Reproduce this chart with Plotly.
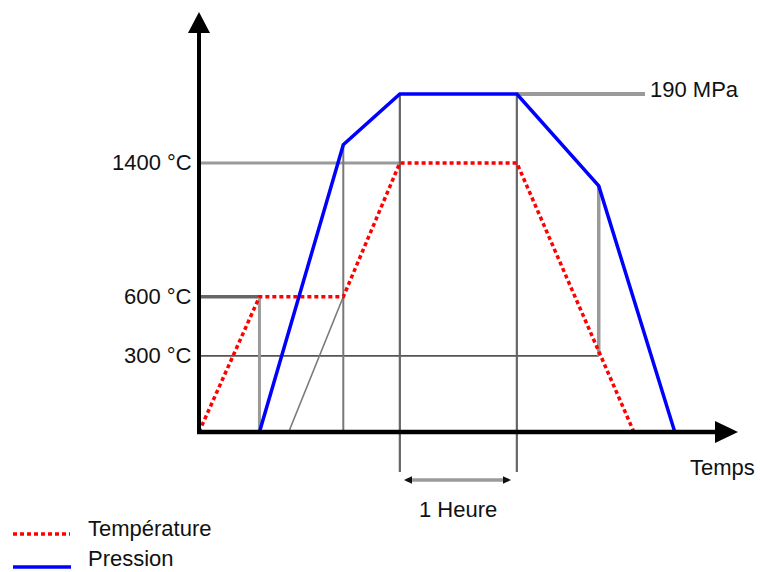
import plotly.graph_objects as go

# ---------------- data (schematic HIP cycle) ----------------
# time in minutes, vertical position in schematic level units (190 MPa level = 100)
temp_time = [0, 31, 74, 103, 163, 223]
temp_level = [0, 40, 40, 79.6, 79.6, 0]
press_time = [31, 74, 103, 163, 205, 244]
press_level = [0, 85, 100, 100, 72.8, 0]
temp_tick_levels = [22.5, 40, 79.6]
temp_tick_labels = ["300 °C", "600 °C", "1400 °C"]
press_tick_level = 100
press_tick_label = "190 MPa"
series_names = ["Température", "Pression"]
x_axis_title = "Temps"
hour_label = "1 Heure"
aux_start_time = 46  # thin grey ramp start

# ---------------- canvas / scale ----------------
W, H = 760, 572
X0_PX, Y0_PX = 199, 432          # origin in pixels
PX_PER_MIN = 117 / 60            # 1 hour = 117 px
PX_PER_UNIT = 3.38


def dx(px):
    return (px - X0_PX) / PX_PER_MIN


def dy(py):
    return (Y0_PX - py) / PX_PER_UNIT


FONT = dict(family="Liberation Sans, Arial, sans-serif", size=22, color="#111111")

fig = go.Figure()
shapes = []


def seg(x0, y0, x1, y1, color, width, layer="below"):
    shapes.append(dict(type="line", xref="x", yref="y", x0=x0, y0=y0, x1=x1, y1=y1,
                       line=dict(color=color, width=width), layer=layer))


# 300 °C crossing on the descent is at the pressure kink time
t300 = press_time[4]

# grey guide lines
seg(0, temp_level[3], temp_time[3], temp_level[3], "#9a9a9a", 3)                  # 1400
seg(press_time[3], press_level[3], dx(645), press_level[3], "#9a9a9a", 4)         # 190 MPa
seg(0, temp_level[1], temp_time[1], temp_level[1], "#666666", 3.5)               # 600
seg(0, temp_tick_levels[0], t300, temp_tick_levels[0], "#555555", 1.8)           # 300
seg(temp_time[1], 0, temp_time[1], temp_level[1], "#9a9a9a", 3)                  # v @ 600 start
seg(press_time[1], 0, press_time[1], press_level[1], "#777777", 2)               # v @ kink
seg(temp_time[3], dy(472), temp_time[3], press_level[2], "#666666", 2.2)         # v 1h start
seg(temp_time[4], dy(472), temp_time[4], press_level[3], "#666666", 2.2)         # v 1h end
seg(t300, temp_tick_levels[0], t300, press_level[4], "#9a9a9a", 3.5)             # v @ kink down
seg(aux_start_time, 0, temp_time[2], temp_level[2], "#7a7a7a", 1.6)              # thin ramp

# 1 hour double arrow
ya = dy(480)
seg(dx(407), ya, dx(508), ya, "#9a9a9a", 3.5)
for tip, back in [(dx(404), dx(412)), (dx(511), dx(503))]:
    shapes.append(dict(type="path", xref="x", yref="y",
                       path=f"M {tip},{ya} L {back},{ya + 1.1} L {back},{ya - 1.1} Z",
                       fillcolor="#111111", line=dict(width=0), layer="above"))

# axes
AX = "#000000"
shapes.append(dict(type="line", xref="x", yref="y", x0=0, y0=dy(433), x1=0, y1=dy(28),
                   line=dict(color=AX, width=4), layer="above"))
shapes.append(dict(type="line", xref="x", yref="y", x0=dx(197), y0=0, x1=dx(720), y1=0,
                   line=dict(color=AX, width=4.5), layer="above"))
shapes.append(dict(type="path", xref="x", yref="y",
                   path=f"M 0,{dy(12)} L {dx(188)},{dy(33)} L {dx(210)},{dy(33)} Z",
                   fillcolor=AX, line=dict(width=0), layer="above"))
shapes.append(dict(type="path", xref="x", yref="y",
                   path=f"M {dx(738)},0 L {dx(715)},{dy(421)} L {dx(715)},{dy(443)} Z",
                   fillcolor=AX, line=dict(width=0), layer="above"))

# legend samples (paper coords)
shapes.append(dict(type="line", xref="paper", yref="paper", x0=13 / W, x1=70 / W,
                   y0=1 - 534 / H, y1=1 - 534 / H,
                   line=dict(color="#ff0000", width=3.5, dash="4px,3px")))
shapes.append(dict(type="line", xref="paper", yref="paper", x0=13 / W, x1=71 / W,
                   y0=1 - 567 / H, y1=1 - 567 / H,
                   line=dict(color="#0000ff", width=3.5)))

# series
fig.add_trace(go.Scatter(x=temp_time, y=temp_level, mode="lines", name=series_names[0],
                         line=dict(color="#ff0000", width=3.5, dash="4px,3px"),
                         showlegend=False, hoverinfo="skip"))
fig.add_trace(go.Scatter(x=press_time, y=press_level, mode="lines", name=series_names[1],
                         line=dict(color="#0000ff", width=3.5),
                         showlegend=False, hoverinfo="skip"))

annotations = []
for lvl, lab in zip(temp_tick_levels, temp_tick_labels):
    annotations.append(dict(x=0, y=lvl, xref="x", yref="y", text=lab, showarrow=False,
                            xanchor="right", yanchor="middle", xshift=-5, font=FONT))
annotations.append(dict(x=dx(648), y=dy(89), xref="x", yref="y", text=press_tick_label,
                        showarrow=False, xanchor="left", yanchor="middle", font=FONT))
annotations.append(dict(x=dx(688), y=dy(467), xref="x", yref="y", text=x_axis_title,
                        showarrow=False, xanchor="left", yanchor="middle", font=FONT))
annotations.append(dict(x=(temp_time[3] + temp_time[4]) / 2, y=dy(509), xref="x", yref="y",
                        text=hour_label, showarrow=False, xanchor="center", yanchor="middle",
                        font=FONT))
annotations.append(dict(x=86 / W, y=1 - 528 / H, xref="paper", yref="paper", text=series_names[0],
                        showarrow=False, xanchor="left", yanchor="middle", font=FONT))
annotations.append(dict(x=86 / W, y=1 - 558 / H, xref="paper", yref="paper", text=series_names[1],
                        showarrow=False, xanchor="left", yanchor="middle", font=FONT))

fig.update_layout(
    width=W, height=H,
    margin=dict(l=0, r=0, t=0, b=0),
    paper_bgcolor="white", plot_bgcolor="white",
    xaxis=dict(range=[dx(0), dx(W)], visible=False, fixedrange=True),
    yaxis=dict(range=[dy(H), dy(0)], visible=False, fixedrange=True),
    shapes=shapes, annotations=annotations, showlegend=False,
)

fig.write_html("out.html")
